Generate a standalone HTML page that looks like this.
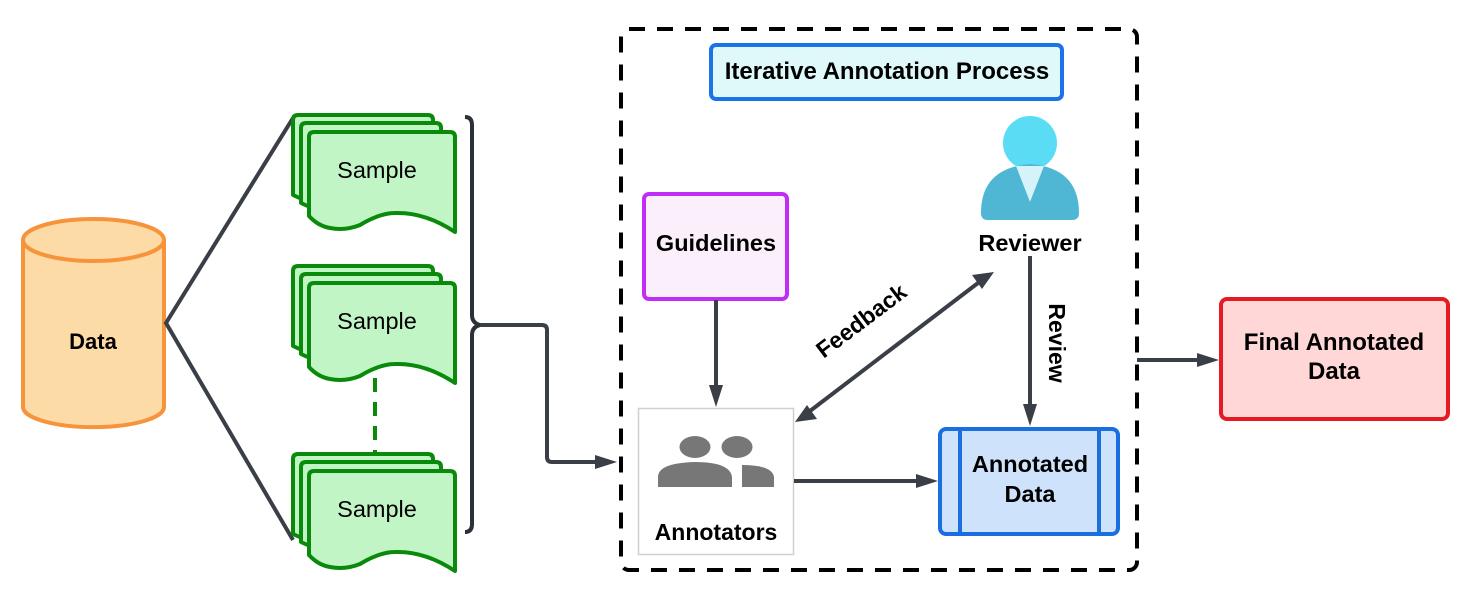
<!DOCTYPE html>
<html><head><meta charset="utf-8"><style>
html,body{margin:0;padding:0;background:#fff;}
svg{display:block;}
text{font-family:"Liberation Sans",Arial,sans-serif;}
</style></head><body>
<svg width="1470" height="596" viewBox="0 0 1470 596" xmlns="http://www.w3.org/2000/svg">
<defs>
<g id="stack">
  <path d="M293,120 q0,-5 5,-5 h130 q5,0 5,5 v85 q-25,-15 -50,-8 q-25,8 -45,8 q-25,0 -45,-10 z" fill="#c2f5c6" stroke="#0a8a0a" stroke-width="4" stroke-linejoin="round"/>
  <path d="M301,128 q0,-5 5,-5 h130 q5,0 5,5 v85 q-25,-15 -50,-8 q-25,8 -45,8 q-25,0 -45,-10 z" fill="#c2f5c6" stroke="#0a8a0a" stroke-width="4" stroke-linejoin="round"/>
  <path d="M309,137 q0,-5 5,-5 h136 q5,0 5,5 v95 q-30,-20 -60,-19 q-15,0 -35,12 q-15,6 -30,3 q-12,-2 -21,-12 z" fill="#c2f5c6" stroke="#0a8a0a" stroke-width="4" stroke-linejoin="round"/>
</g>
</defs>

<path d="M23,240 v167 a70,20 0 0 0 141,0 v-167" fill="#fddba6" stroke="#f7933b" stroke-width="4"/>
<ellipse cx="93.5" cy="240" rx="70.5" ry="21" fill="#fddba6" stroke="#f7933b" stroke-width="4"/>
<text x="93" y="349" font-size="22" font-weight="bold" text-anchor="middle">Data</text>

<path d="M293,118 L166,323 L293,540" fill="none" stroke="#3a3f47" stroke-width="4"/>

<use href="#stack"/>
<text x="377" y="178" font-size="23.5" text-anchor="middle">Sample</text>
<use href="#stack" y="151"/>
<text x="377" y="329" font-size="23.5" text-anchor="middle">Sample</text>
<line x1="375" y1="378" x2="375" y2="452" stroke="#0a8a0a" stroke-width="4" stroke-dasharray="14,10"/>
<use href="#stack" y="339"/>
<text x="377" y="517" font-size="23.5" text-anchor="middle">Sample</text>

<path d="M465,117 q7,0 7,8 v190 q0,8 8,10 q-8,2 -8,10 v189 q0,8 -7,8" fill="none" stroke="#2c3038" stroke-width="4"/>
<path d="M480,325 h62 q5,0 5,5 v127 q0,5 5,5 h45" fill="none" stroke="#3a3f47" stroke-width="4"/>
<polygon points="617,462 595,455 595,469" fill="#3a3f47"/>

<rect x="621" y="29" width="516" height="541" rx="8" fill="none" stroke="#000" stroke-width="4" stroke-dasharray="16,12"/>

<rect x="711" y="45" width="351" height="54" rx="5" fill="#dff8fa" stroke="#1a73e8" stroke-width="4"/>
<text x="887" y="79" font-size="24" font-weight="bold" text-anchor="middle">Iterative Annotation Process</text>

<rect x="644" y="194" width="143" height="105" rx="5" fill="#fbeffc" stroke="#c22df5" stroke-width="4"/>
<text x="716" y="251" font-size="23.5" font-weight="bold" text-anchor="middle">Guidelines</text>
<line x1="716" y1="300" x2="716" y2="388" stroke="#3a3f47" stroke-width="4"/>
<polygon points="716,407 709,385 723,385" fill="#3a3f47"/>

<rect x="638.5" y="408.5" width="155" height="146" fill="#fff" stroke="#d0d0d0" stroke-width="1.5"/>
<ellipse cx="695" cy="447" rx="15.5" ry="11" fill="#777"/>
<ellipse cx="737" cy="447" rx="15.5" ry="11" fill="#777"/>
<path d="M658,487 v-10 q0,-14 37,-15 q35,0 37,15 v10 z" fill="#777"/>
<path d="M742,487 v-22 q30,0 32,12 v10 z" fill="#777"/>
<text x="716" y="540" font-size="23" font-weight="bold" text-anchor="middle">Annotators</text>

<circle cx="1030" cy="143" r="27" fill="#5adcf4"/>
<path d="M981,213 q0,-45 49,-49 q49,4 49,49 q0,7 -7,7 h-84 q-7,0 -7,-7z" fill="#4fb6d3"/>
<path d="M1016,166 h28 l-14,36 z" fill="#d5f3f8"/>
<text x="1030" y="251" font-size="23.5" font-weight="bold" text-anchor="middle">Reviewer</text>
<line x1="1030" y1="256" x2="1030" y2="406" stroke="#3a3f47" stroke-width="4"/>
<polygon points="1030,426 1023,404 1037,404" fill="#3a3f47"/>
<text transform="translate(1049,343) rotate(90)" font-size="23" font-weight="bold" text-anchor="middle">Review</text>

<line x1="810" y1="411" x2="978" y2="283" stroke="#3a3f47" stroke-width="4"/>
<polygon points="994,272 972,275 982,289" fill="#3a3f47"/>
<polygon points="795,422 817,419 807,405" fill="#3a3f47"/>
<text transform="translate(866,327) rotate(-37)" font-size="23" font-weight="bold" text-anchor="middle">Feedback</text>

<line x1="794" y1="481" x2="918" y2="481" stroke="#3a3f47" stroke-width="4"/>
<polygon points="938,481 916,474 916,488" fill="#3a3f47"/>

<rect x="940" y="429" width="178" height="105" rx="6" fill="#cfe2fb" stroke="#1a6fe0" stroke-width="4"/>
<line x1="960" y1="429" x2="960" y2="534" stroke="#1a6fe0" stroke-width="4"/>
<line x1="1099" y1="429" x2="1099" y2="534" stroke="#1a6fe0" stroke-width="4"/>
<text x="1030" y="472" font-size="23.5" font-weight="bold" text-anchor="middle">Annotated</text>
<text x="1030" y="502" font-size="23.5" font-weight="bold" text-anchor="middle">Data</text>

<line x1="1137" y1="360" x2="1200" y2="360" stroke="#3a3f47" stroke-width="4"/>
<polygon points="1219,360 1197,353 1197,367" fill="#3a3f47"/>
<rect x="1221" y="299" width="227" height="120" rx="6" fill="#ffd7d7" stroke="#e51a22" stroke-width="4"/>
<text x="1334" y="350" font-size="24" font-weight="bold" text-anchor="middle">Final Annotated</text>
<text x="1334" y="379" font-size="24" font-weight="bold" text-anchor="middle">Data</text>
</svg>
</body></html>
